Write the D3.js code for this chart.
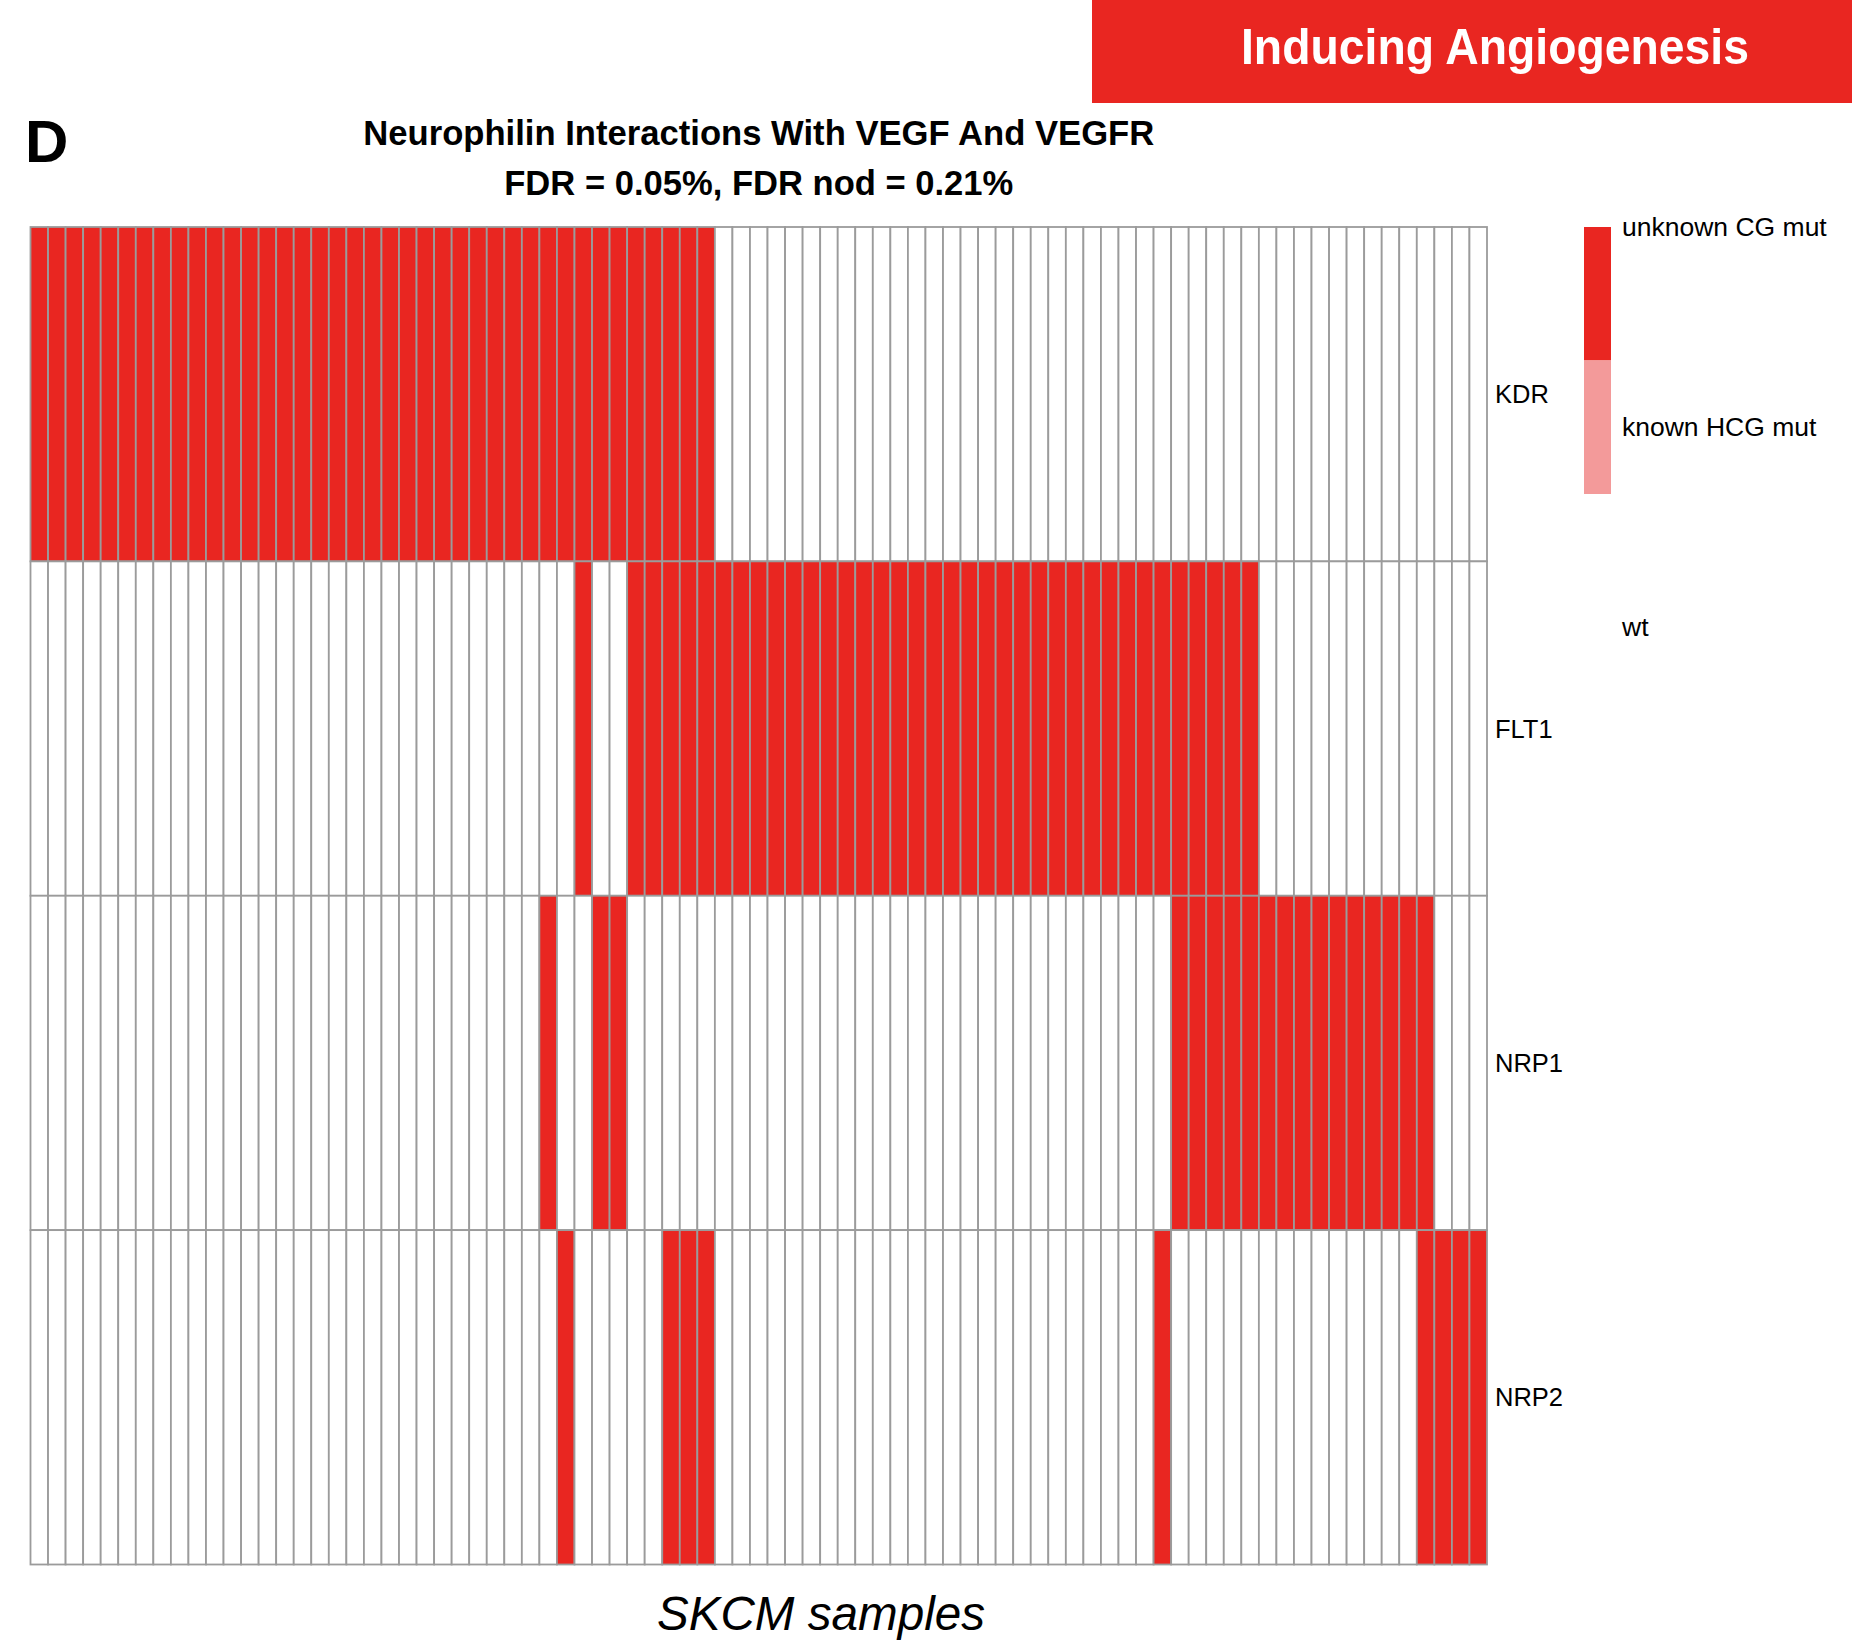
<!DOCTYPE html>
<html>
<head>
<meta charset="utf-8">
<script src="https://cdn.jsdelivr.net/npm/d3@7"></script>
<style>
  html, body { margin: 0; padding: 0; background: #fff; }
  svg { display: block; font-family: "Liberation Sans", Arial, Helvetica, sans-serif; }
</style>
</head>
<body>
<svg id="chart" width="1852" height="1644"></svg>
<script>
// ---- data ----
const genes = ["KDR", "FLT1", "NRP1", "NRP2"];
const sampleCount = 83;
// sample indices (0-based, left to right) carrying an "unknown CG mut"
const kdrMut  = [0,1,2,3,4,5,6,7,8,9,10,11,12,13,14,15,16,17,18,19,20,21,22,23,24,25,26,27,28,29,30,31,32,33,34,35,36,37,38];
const flt1Mut = [31,34,35,36,37,38,39,40,41,42,43,44,45,46,47,48,49,50,51,52,53,54,55,56,57,58,59,60,61,62,63,64,65,66,67,68,69];
const nrp1Mut = [29,32,33,65,66,67,68,69,70,71,72,73,74,75,76,77,78,79];
const nrp2Mut = [30,36,37,38,64,79,80,81,82];
const legendLabels = ["unknown CG mut", "known HCG mut", "wt"];
const legendColors = ["#E92621", "#F39A9A", "#FFFFFF"];
const bannerText = "Inducing Angiogenesis";
const panelLetter = "D";
const titleLine1 = "Neurophilin Interactions With VEGF And VEGFR";
const titleLine2 = "FDR = 0.05%, FDR nod = 0.21%";
const xAxisLabel = "SKCM samples";

// ---- build cell table ----
const mutByGene = { KDR: kdrMut, FLT1: flt1Mut, NRP1: nrp1Mut, NRP2: nrp2Mut };
const samples = d3.range(sampleCount);
const cells = [];
genes.forEach(g => {
  const s = new Set(mutByGene[g]);
  samples.forEach(i => cells.push({ gene: g, sample: i, status: s.has(i) ? "unknown CG mut" : "wt" }));
});

const svg = d3.select("#chart");
const color = d3.scaleOrdinal().domain(legendLabels).range(legendColors);

// layout
const gridLeft = 30.5, gridRight = 1487, gridTop = 227, gridBottom = 1564.5;
const x = d3.scaleBand().domain(samples).range([gridLeft, gridRight]).padding(0);
const y = d3.scaleBand().domain(genes).range([gridTop, gridBottom]).padding(0);

// banner
svg.append("rect").attr("x", 1092).attr("y", 0).attr("width", 1852 - 1092).attr("height", 103)
  .attr("fill", "#E92621");
svg.append("text").attr("x", 1241).attr("y", 64)
  .attr("fill", "#fff").attr("font-weight", "bold").attr("font-size", 50)
  .attr("textLength", 508).attr("lengthAdjust", "spacingAndGlyphs")
  .text(bannerText);

// panel letter
svg.append("text").attr("x", 25).attr("y", 162)
  .attr("font-weight", "bold").attr("font-size", 60).attr("fill", "#000")
  .text(panelLetter);

// titles
const cx = (gridLeft + gridRight) / 2;
svg.append("text").attr("x", cx).attr("y", 145).attr("text-anchor", "middle")
  .attr("font-weight", "bold").attr("font-size", 35).attr("fill", "#000")
  .attr("textLength", 791).attr("lengthAdjust", "spacingAndGlyphs")
  .text(titleLine1);
svg.append("text").attr("x", cx).attr("y", 195).attr("text-anchor", "middle")
  .attr("font-weight", "bold").attr("font-size", 35).attr("fill", "#000")
  .attr("textLength", 509).attr("lengthAdjust", "spacingAndGlyphs")
  .text(titleLine2);

// cells
svg.append("g").selectAll("rect").data(cells).join("rect")
  .attr("x", d => x(d.sample))
  .attr("y", d => y(d.gene))
  .attr("width", x.bandwidth())
  .attr("height", y.bandwidth())
  .attr("fill", d => color(d.status))
  .attr("stroke", "#9b9b9b")
  .attr("stroke-width", 1.8);

// row labels (right side)
const yAxis = d3.axisRight(y).tickSize(0).tickPadding(0);
const ya = svg.append("g").attr("transform", `translate(${gridRight + 8},0)`).call(yAxis);
ya.select(".domain").remove();
ya.selectAll("text").attr("font-size", 25.5).attr("fill", "#000")
  .attr("font-family", "'Liberation Sans', Arial, sans-serif").attr("dy", "0.35em");

// legend
const legY = d3.scaleBand().domain(legendLabels).range([227, 227 + 133.5 * 3]);
const leg = svg.append("g");
leg.selectAll("rect").data(legendLabels).join("rect")
  .attr("x", 1584).attr("y", d => legY(d)).attr("width", 27).attr("height", legY.bandwidth())
  .attr("fill", d => color(d));
const legTextY = d3.scalePoint().domain(legendLabels).range([236, 636]);
leg.selectAll("text").data(legendLabels).join("text")
  .attr("x", 1622).attr("y", d => legTextY(d))
  .attr("font-size", 26.5).attr("fill", "#000")
  .text(d => d);

// x axis label
svg.append("text").attr("x", 821).attr("y", 1630).attr("text-anchor", "middle")
  .attr("font-style", "italic").attr("font-size", 48).attr("fill", "#000")
  .attr("textLength", 328).attr("lengthAdjust", "spacingAndGlyphs")
  .text(xAxisLabel);
</script>
</body>
</html>
